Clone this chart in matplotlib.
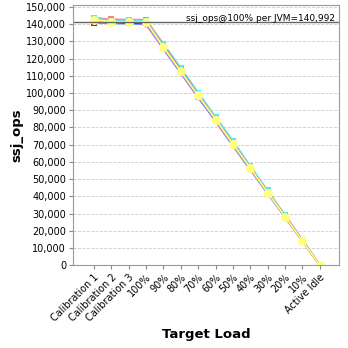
import matplotlib
matplotlib.use('Agg')
import matplotlib.pyplot as plt
from matplotlib.ticker import FuncFormatter

categories = ['Calibration 1', 'Calibration 2', 'Calibration 3', '100%', '90%', '80%',
              '70%', '60%', '50%', '40%', '30%', '20%', '10%', 'Active Idle']

jvm1 = [143800, 142800, 142700, 142600, 128600, 114300, 99900, 85900, 71900, 57300, 43000, 29000, 14600, 0]
jvm2 = [143500, 142000, 142300, 141800, 128300, 114600, 100300, 86200, 72300, 57600, 43400, 28900, 14700, 0]
jvm3 = [141500, 141000, 140600, 140500, 126000, 112000, 97800, 84000, 69600, 55800, 41900, 28000, 14000, 0]
jvm4 = [141200, 140400, 140300, 139800, 125500, 111400, 97300, 83500, 69200, 55400, 41500, 27700, 13800, 0]
jvm5 = [141800, 140800, 140900, 140200, 126300, 112400, 98200, 84300, 70000, 56000, 42000, 28100, 14100, 0]
jvm6 = [140800, 141200, 140500, 140700, 127300, 113200, 98900, 84600, 70400, 56200, 42200, 28400, 14300, 0]
jvm7 = [142200, 141400, 141500, 141100, 127100, 113000, 98700, 84900, 70700, 56600, 42400, 28300, 14250, 0]
jvm8 = [142400, 141300, 141200, 141200, 126700, 112500, 98600, 84600, 70300, 56300, 42100, 28200, 14100, 0]

ssj_per_jvm = 140992

series = [
    (jvm1, '#ff7f7f', 's', 5),
    (jvm2, '#55e8ff', 's', 5),
    (jvm3, '#55dd55', '^', 5),
    (jvm4, '#7f7fff', 'v', 5),
    (jvm5, '#ff66ff', 'D', 4),
    (jvm6, '#aa2222', 's', 5),
    (jvm7, '#ffaa55', 'o', 5),
    (jvm8, '#ffff80', 'o', 6.5),
]

fig = plt.figure(figsize=(3.48, 3.48), dpi=100)
ax = fig.add_axes([0.21, 0.238, 0.764, 0.748])

x = list(range(len(categories)))
for vals, color, marker, ms in series:
    ax.plot(x, vals, color=color, marker=marker, markersize=ms, linewidth=1.2,
            markeredgewidth=0)

ax.axhline(ssj_per_jvm, color='#666666', linewidth=1)
ax.text(0.985, 0.965, 'ssj_ops@100% per JVM=140,992', transform=ax.transAxes,
        ha='right', va='top', fontsize=6.5)

ax.set_xlim(-1.2, 14.1)
ax.set_ylim(0, 151200)
ax.set_yticks(range(0, 150001, 10000))
ax.yaxis.set_major_formatter(FuncFormatter(lambda v, p: f'{int(v):,}'))
ax.set_xticks(x)
ax.set_xticklabels(categories, rotation=45, ha='right', rotation_mode='anchor')
ax.tick_params(labelsize=7, length=3, color='#888888', pad=2)
ax.grid(axis='y', color='#cccccc', linestyle='--', linewidth=0.6)
ax.set_axisbelow(True)
for s in ax.spines.values():
    s.set_color('#999999')

ax.set_xlabel('Target Load', fontsize=9.5, fontweight='bold', labelpad=3)
ax.set_ylabel('ssj_ops', fontsize=9.5, fontweight='bold', labelpad=2)

fig.savefig('out.png', dpi=100)
